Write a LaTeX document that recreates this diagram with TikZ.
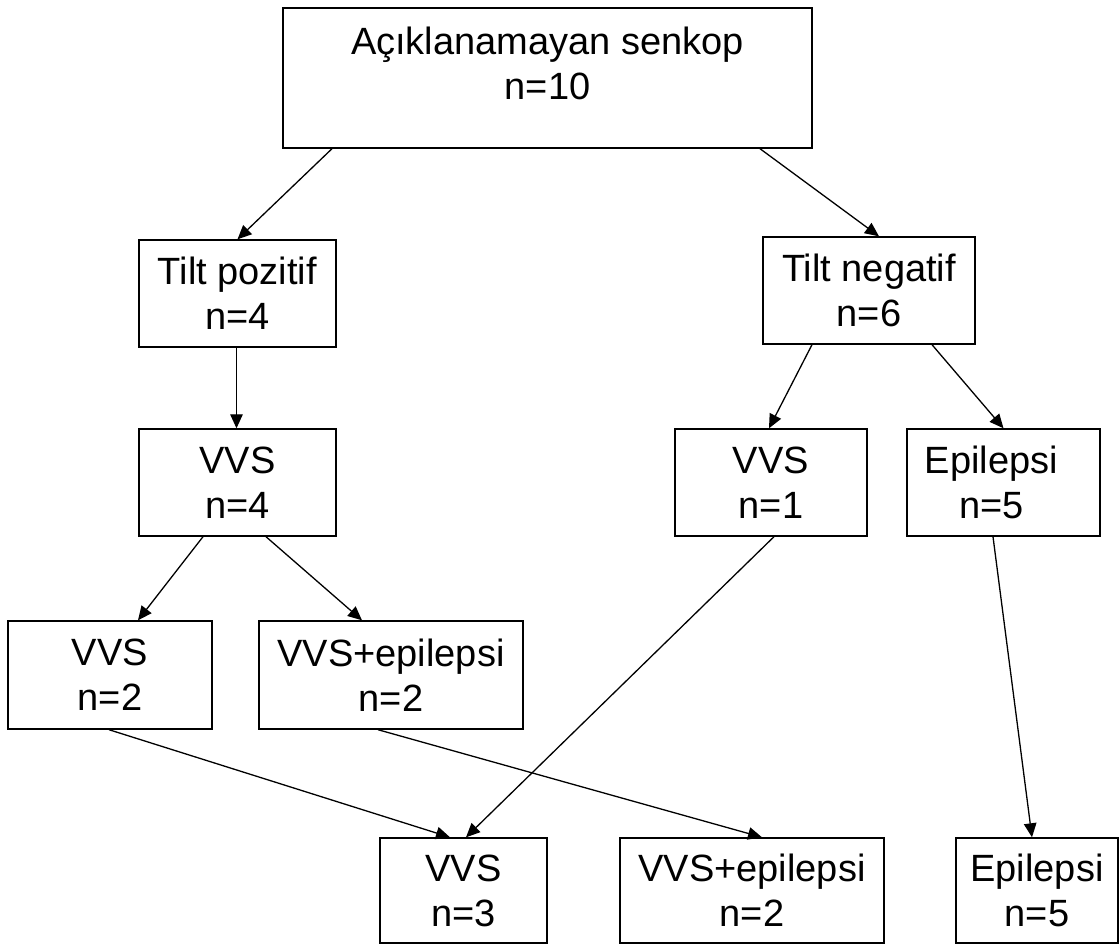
\documentclass[tikz,border=0pt]{standalone}
\usepackage{fontspec}
\setmainfont{Liberation Sans}
\usetikzlibrary{arrows.meta}
\begin{document}
\begin{tikzpicture}[x=1pt,y=1pt,
  box/.style={draw=black, line width=1.4pt, rectangle, align=center, inner sep=0pt,
    font=\fontsize{38}{45}\selectfont, minimum height=107pt},
  arr/.style={-{Triangle[length=14pt,width=12.5pt]}, line width=1.3pt}]
\useasboundingbox (0,0) rectangle (1120,-945);
% boxes
\node[box, minimum width=529pt, minimum height=140pt, text depth=29pt] (a) at (547.5,-78) {Açıklanamayan senkop\\n=10};
\node[box, minimum width=197pt] (tp) at (237.5,-293.5) {Tilt pozitif\\n=4};
\node[box, minimum width=212pt] (tn) at (869,-290.5) {Tilt negatif\\n=6};
\node[box, minimum width=197pt] (v4) at (237.5,-482.5) {VVS\\n=4};
\node[box, minimum width=192pt] (v1) at (771,-482.5) {VVS\\n=1};
\node[box, minimum width=193pt] (e5) at (1003.5,-482.5) {Epilepsi\hspace*{24pt}\\n=5\hspace*{24pt}};
\node[box, minimum width=204pt, minimum height=108pt] (v2) at (110,-675) {VVS\\n=2};
\node[box, minimum width=264pt, minimum height=108pt] (ve2) at (391,-675) {VVS+epilepsi\\n=2};
\node[box, minimum width=167pt, minimum height=105pt] (v3) at (463.5,-890.5) {VVS\\n=3};
\node[box, minimum width=264pt, minimum height=105pt] (ve2b) at (752,-890.5) {VVS+epilepsi\\n=2};
\node[box, minimum width=162pt, minimum height=105pt] (e5b) at (1037,-890.5) {Epilepsi\\n=5};
% connectors
\draw[arr] ([xshift=-215.5pt]a.south) -- (tp.north);
\draw[arr] ([xshift=212.5pt]a.south) -- ([xshift=10pt]tn.north);
\draw[arr] ([xshift=-1pt]tp.south) -- ([xshift=-1pt]v4.north);
\draw[arr] ([xshift=-57pt]tn.south) -- ([xshift=-2pt]v1.north);
\draw[arr] ([xshift=63pt]tn.south) -- (e5.north);
\draw[arr] ([xshift=-34.5pt]v4.south) -- ([xshift=28pt]v2.north);
\draw[arr] ([xshift=28.5pt]v4.south) -- ([xshift=-29pt]ve2.north);
\draw[arr] ([xshift=3pt]v1.south) -- ([xshift=2.5pt]v3.north);
\draw[arr] ([xshift=-10.5pt]e5.south) -- ([xshift=-5pt]e5b.north);
\draw[arr] ([xshift=-1pt]v2.south) -- ([xshift=-13.5pt]v3.north);
\draw[arr] ([xshift=-13pt]ve2.south) -- ([xshift=10pt]ve2b.north);
\end{tikzpicture}
\end{document}
